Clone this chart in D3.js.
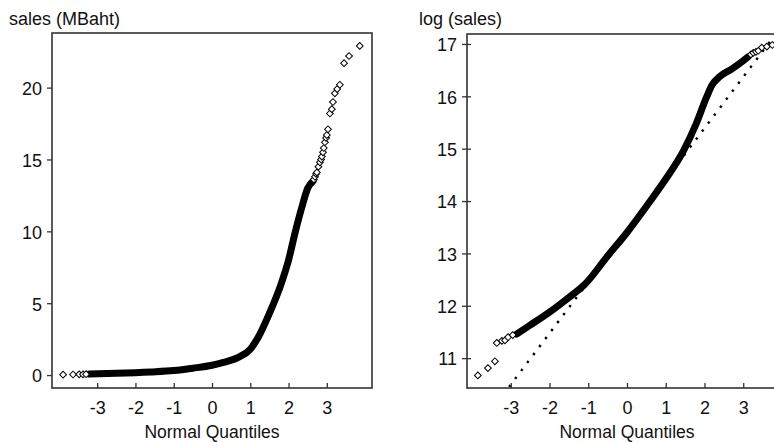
<!DOCTYPE html>
<html>
<head>
<meta charset="utf-8">
<title>QQ plots</title>
<script src="https://cdn.jsdelivr.net/npm/d3@7"></script>
<style>
  body { margin: 0; background: #fff; }
  svg { display: block; font-family: "Liberation Sans", Arial, sans-serif; }
</style>
</head>
<body>
<svg></svg>
<script>
const width = 774;
const height = 442;

// ---- data: [normal quantile, value] ----
const qTicks = [-3, -2, -1, 0, 1, 2, 3];
const salesTicks = [0, 5, 10, 15, 20];
const logTicks = [11, 12, 13, 14, 15, 16, 17];

// sales (MBaht): dense band and the sparse points at the tails
const salesBand = [[-3.2, 0.07], [-2.5, 0.12], [-1.6, 0.22], [-1.0, 0.32], [-0.5, 0.48], [0, 0.68],
    [0.3, 0.88], [0.7, 1.25], [1.0, 1.8], [1.2, 2.6], [1.5, 4.3], [1.8, 6.3], [2.0, 8.0], [2.17, 9.9],
    [2.35, 11.7], [2.5, 13.0], [2.64, 13.5]];
const salesPoints = [[-3.89, 0.03], [-3.63, 0.04], [-3.47, 0.05], [-3.37, 0.05], [-3.29, 0.06],
    [2.66, 13.6], [2.69, 13.8], [2.72, 14.0], [2.74, 14.1], [2.78, 14.5], [2.82, 14.8], [2.85, 15.0],
    [2.87, 15.2], [2.9, 15.5], [2.92, 15.8], [2.95, 16.2], [2.98, 16.5], [3.0, 16.7], [3.03, 17.1],
    [3.08, 18.2], [3.13, 18.5], [3.16, 19.0], [3.21, 19.6], [3.27, 19.9], [3.34, 20.2],
    [3.45, 21.7], [3.58, 22.2], [3.86, 22.9]];

// log (sales)
const logBand = [[-2.85, 11.46], [-2.5, 11.63], [-2.0, 11.88], [-1.5, 12.16], [-1.1, 12.40],
    [-0.5, 12.95], [0, 13.40], [0.6, 14.0], [1.0, 14.42], [1.45, 14.95], [1.8, 15.5],
    [2.05, 15.98], [2.2, 16.22], [2.4, 16.38], [2.7, 16.52], [3.0, 16.68], [3.12, 16.75]];
const logPoints = [[-3.85, 10.67], [-3.59, 10.81], [-3.41, 10.94], [-3.36, 11.29], [-3.23, 11.33],
    [-3.15, 11.34], [-3.07, 11.40], [-2.95, 11.44], [3.2, 16.8], [3.26, 16.83], [3.33, 16.85],
    [3.39, 16.87], [3.48, 16.93], [3.61, 16.95], [3.75, 16.98]];
// dotted reference line end points
const logRef = [[-3.2, 10.30], [3.9, 17.25]];

const svg = d3.select("svg")
    .attr("width", width)
    .attr("height", height);

const diamond = d3.symbol().type(d3.symbolSquare).size(23);
const fmt = d => String(d).replace("\u2212", "-");

function drawPanel(cfg) {
    const x = d3.scaleLinear().domain(cfg.xDomain).range(cfg.xRange);
    const y = d3.scaleLinear().domain(cfg.yDomain).range(cfg.yRange);
    const g = svg.append("g");

    g.append("clipPath").attr("id", cfg.id)
        .append("rect")
        .attr("x", cfg.xRange[0]).attr("y", cfg.yRange[1])
        .attr("width", cfg.xRange[1] - cfg.xRange[0])
        .attr("height", cfg.yRange[0] - cfg.yRange[1]);

    const plot = g.append("g").attr("clip-path", "url(#" + cfg.id + ")");

    if (cfg.ref) {
        plot.append("path")
            .attr("d", d3.line().x(d => x(d[0])).y(d => y(d[1]))(cfg.ref))
            .attr("fill", "none")
            .attr("stroke", "#000")
            .attr("stroke-width", 2.4)
            .attr("stroke-dasharray", "2.4,7.6");
    }

    plot.append("path")
        .attr("d", d3.line().curve(d3.curveMonotoneX).x(d => x(d[0])).y(d => y(d[1]))(cfg.band))
        .attr("fill", "none")
        .attr("stroke", "#000")
        .attr("stroke-width", 7)
        .attr("stroke-linecap", "round")
        .attr("stroke-linejoin", "round");

    plot.selectAll("path.pt")
        .data(cfg.points)
        .enter()
        .append("path")
        .attr("class", "pt")
        .attr("d", diamond)
        .attr("transform", d => "translate(" + x(d[0]) + "," + y(d[1]) + ") rotate(45)")
        .attr("fill", "#fff")
        .attr("stroke", "#000")
        .attr("stroke-width", 1);

    // x axis, ticks pointing inward
    const xAxis = g.append("g")
        .attr("transform", "translate(0," + cfg.yRange[0] + ")")
        .call(d3.axisBottom(x).tickValues(qTicks).tickFormat(fmt)
            .tickSizeInner(-5).tickSizeOuter(0).tickPadding(13));
    xAxis.select(".domain").remove();
    xAxis.selectAll("line").attr("stroke", "#333").attr("stroke-width", 1.3);
    xAxis.selectAll("text").attr("font-size", 18).attr("fill", "#111")
        .attr("font-family", "Liberation Sans, Arial, sans-serif");

    // y axis
    const yAxis = g.append("g")
        .attr("transform", "translate(" + cfg.xRange[0] + ",0)")
        .call(d3.axisLeft(y).tickValues(cfg.yTicks).tickFormat(fmt)
            .tickSizeOuter(0).tickSizeInner(5).tickPadding(5));
    yAxis.select(".domain").remove();
    yAxis.selectAll("line").attr("stroke", "#333").attr("stroke-width", 1.3)
        .attr("x1", cfg.tickIn).attr("x2", -5);
    yAxis.selectAll("text").attr("font-size", 18).attr("fill", "#111").attr("dy", "0.38em")
        .attr("font-family", "Liberation Sans, Arial, sans-serif");

    // frame
    g.append("rect")
        .attr("x", cfg.xRange[0]).attr("y", cfg.yRange[1])
        .attr("width", cfg.xRange[1] - cfg.xRange[0])
        .attr("height", cfg.yRange[0] - cfg.yRange[1])
        .attr("fill", "none")
        .attr("stroke", "#333")
        .attr("stroke-width", 1.6);

    g.append("text")
        .attr("x", x(0)).attr("y", 438)
        .attr("text-anchor", "middle")
        .attr("font-size", 17.5)
        .attr("fill", "#111")
        .text("Normal Quantiles");

    g.append("text")
        .attr("x", cfg.titleX).attr("y", 25)
        .attr("font-size", 18)
        .attr("fill", "#111")
        .text(cfg.title);
}

drawPanel({
    id: "clipL", title: "sales (MBaht)", titleX: 9,
    xDomain: [-4.18, 4.18], xRange: [52, 372],
    yDomain: [-0.9, 23.8], yRange: [388, 33],
    yTicks: salesTicks, tickIn: 0,
    band: salesBand, points: salesPoints
});

drawPanel({
    id: "clipR", title: "log (sales)", titleX: 419,
    xDomain: [-4.13, 4.13], xRange: [467, 787],
    yDomain: [10.43, 17.19], yRange: [388, 34],
    yTicks: logTicks, tickIn: 4,
    band: logBand, points: logPoints, ref: logRef
});
</script>
</body>
</html>
